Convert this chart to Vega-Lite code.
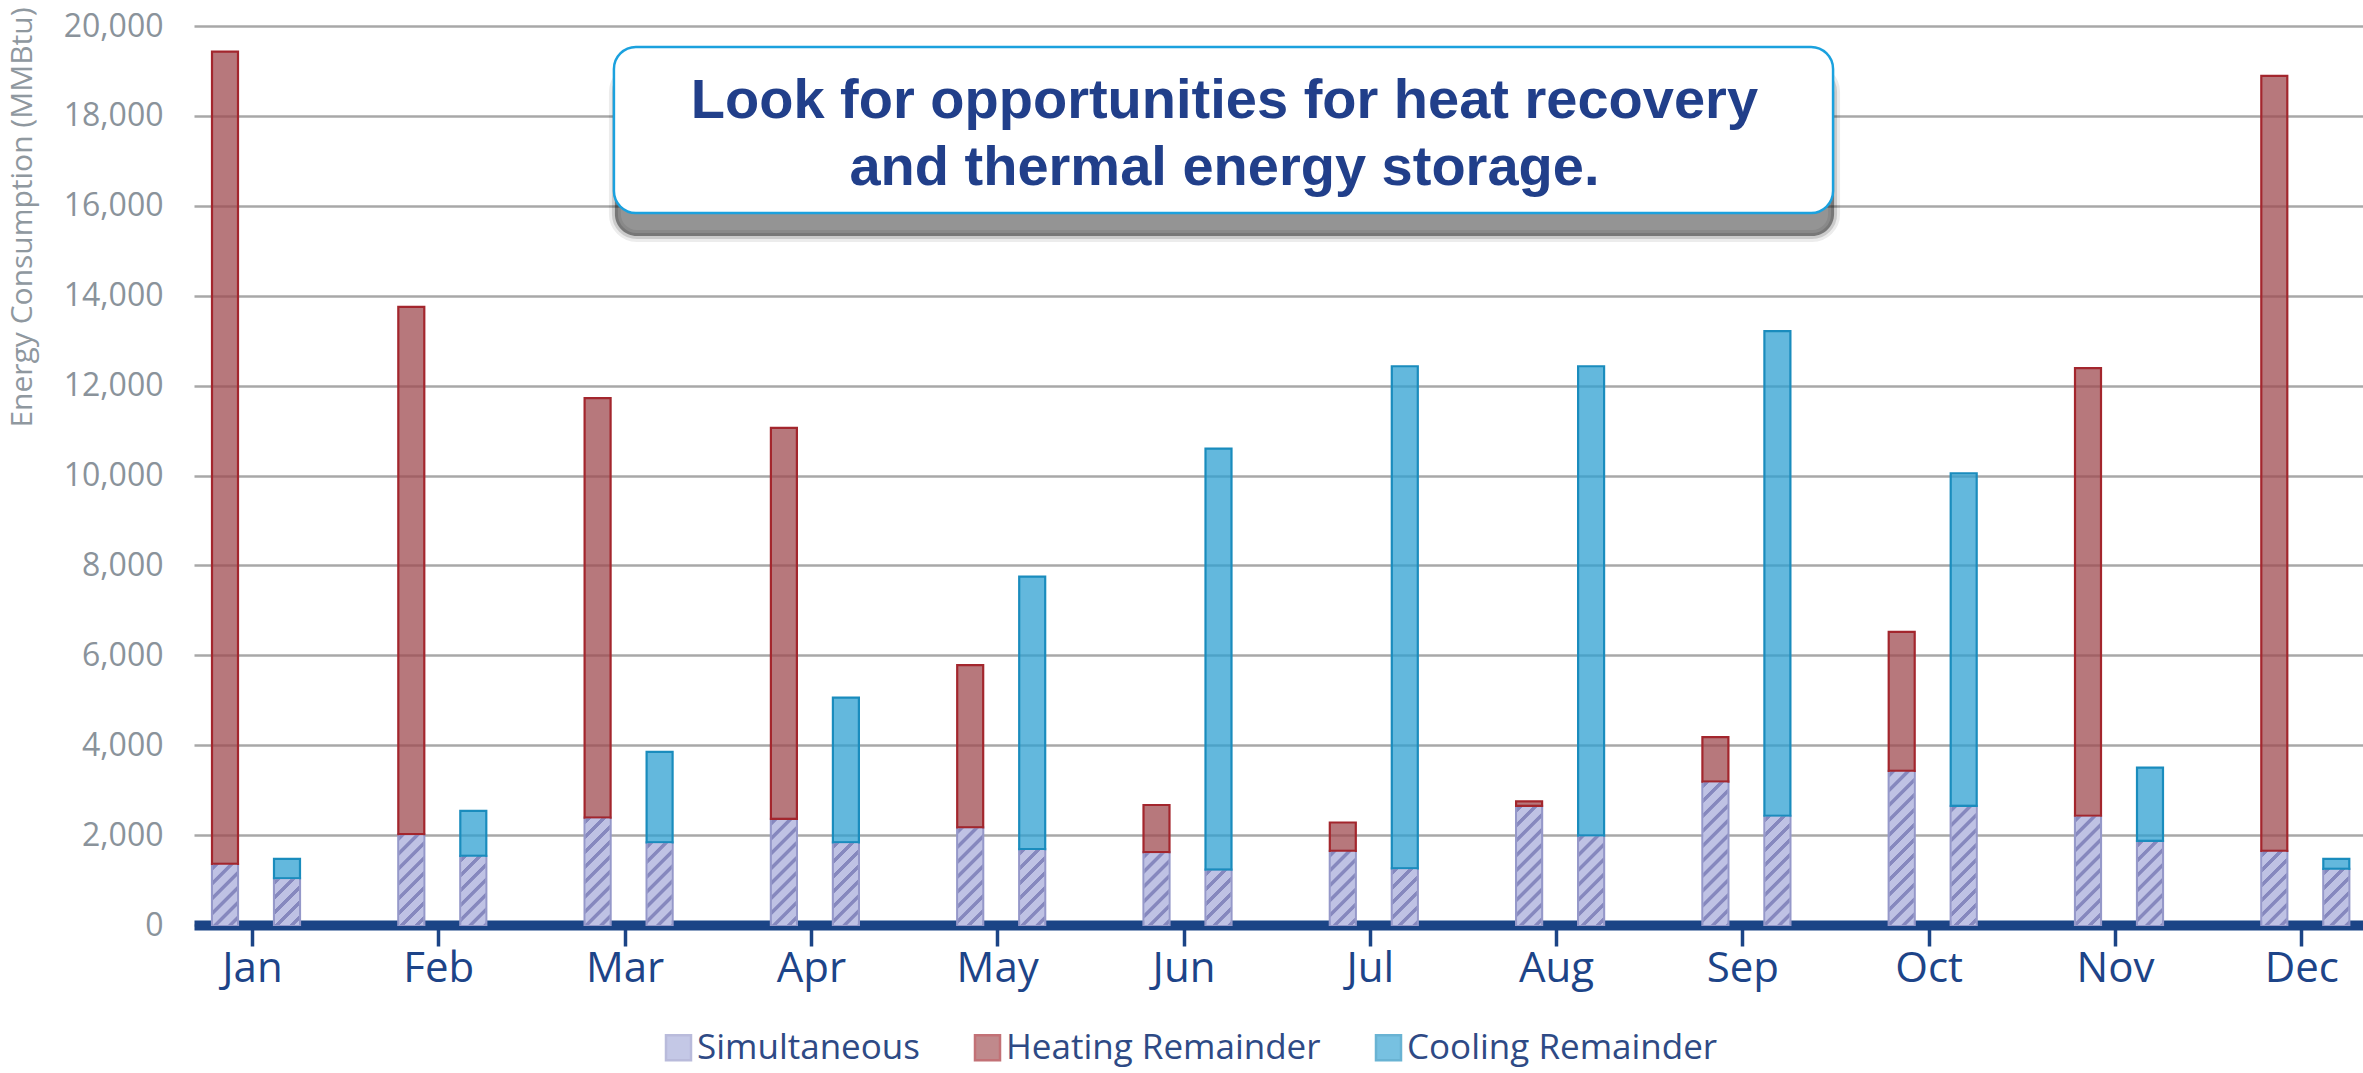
{
  "$schema": "https://vega.github.io/schema/vega-lite/v6.json",
  "width": 2169,
  "height": 899,
  "autosize": {"type": "none"},
  "padding": {"left": 194, "top": 26, "right": 0, "bottom": 148},
  "background": "white",
  "config": {"view": {"stroke": null}, "font": "Open Sans"},
  "data": {
    "values": [
      {"month": "Jan", "side": "Heating", "series": "Simultaneous", "value": 1360},
      {"month": "Jan", "side": "Heating", "series": "Heating Remainder", "value": 18070},
      {"month": "Jan", "side": "Cooling", "series": "Simultaneous", "value": 1040},
      {"month": "Jan", "side": "Cooling", "series": "Cooling Remainder", "value": 430},
      {"month": "Feb", "side": "Heating", "series": "Simultaneous", "value": 2020},
      {"month": "Feb", "side": "Heating", "series": "Heating Remainder", "value": 11730},
      {"month": "Feb", "side": "Cooling", "series": "Simultaneous", "value": 1540},
      {"month": "Feb", "side": "Cooling", "series": "Cooling Remainder", "value": 1000},
      {"month": "Mar", "side": "Heating", "series": "Simultaneous", "value": 2390},
      {"month": "Mar", "side": "Heating", "series": "Heating Remainder", "value": 9330},
      {"month": "Mar", "side": "Cooling", "series": "Simultaneous", "value": 1840},
      {"month": "Mar", "side": "Cooling", "series": "Cooling Remainder", "value": 2010},
      {"month": "Apr", "side": "Heating", "series": "Simultaneous", "value": 2360},
      {"month": "Apr", "side": "Heating", "series": "Heating Remainder", "value": 8700},
      {"month": "Apr", "side": "Cooling", "series": "Simultaneous", "value": 1840},
      {"month": "Apr", "side": "Cooling", "series": "Cooling Remainder", "value": 3220},
      {"month": "May", "side": "Heating", "series": "Simultaneous", "value": 2170},
      {"month": "May", "side": "Heating", "series": "Heating Remainder", "value": 3610},
      {"month": "May", "side": "Cooling", "series": "Simultaneous", "value": 1690},
      {"month": "May", "side": "Cooling", "series": "Cooling Remainder", "value": 6060},
      {"month": "Jun", "side": "Heating", "series": "Simultaneous", "value": 1620},
      {"month": "Jun", "side": "Heating", "series": "Heating Remainder", "value": 1050},
      {"month": "Jun", "side": "Cooling", "series": "Simultaneous", "value": 1230},
      {"month": "Jun", "side": "Cooling", "series": "Cooling Remainder", "value": 9370},
      {"month": "Jul", "side": "Heating", "series": "Simultaneous", "value": 1650},
      {"month": "Jul", "side": "Heating", "series": "Heating Remainder", "value": 630},
      {"month": "Jul", "side": "Cooling", "series": "Simultaneous", "value": 1260},
      {"month": "Jul", "side": "Cooling", "series": "Cooling Remainder", "value": 11170},
      {"month": "Aug", "side": "Heating", "series": "Simultaneous", "value": 2650},
      {"month": "Aug", "side": "Heating", "series": "Heating Remainder", "value": 100},
      {"month": "Aug", "side": "Cooling", "series": "Simultaneous", "value": 1990},
      {"month": "Aug", "side": "Cooling", "series": "Cooling Remainder", "value": 10440},
      {"month": "Sep", "side": "Heating", "series": "Simultaneous", "value": 3190},
      {"month": "Sep", "side": "Heating", "series": "Heating Remainder", "value": 990},
      {"month": "Sep", "side": "Cooling", "series": "Simultaneous", "value": 2430},
      {"month": "Sep", "side": "Cooling", "series": "Cooling Remainder", "value": 10780},
      {"month": "Oct", "side": "Heating", "series": "Simultaneous", "value": 3430},
      {"month": "Oct", "side": "Heating", "series": "Heating Remainder", "value": 3090},
      {"month": "Oct", "side": "Cooling", "series": "Simultaneous", "value": 2650},
      {"month": "Oct", "side": "Cooling", "series": "Cooling Remainder", "value": 7400},
      {"month": "Nov", "side": "Heating", "series": "Simultaneous", "value": 2430},
      {"month": "Nov", "side": "Heating", "series": "Heating Remainder", "value": 9960},
      {"month": "Nov", "side": "Cooling", "series": "Simultaneous", "value": 1870},
      {"month": "Nov", "side": "Cooling", "series": "Cooling Remainder", "value": 1630},
      {"month": "Dec", "side": "Heating", "series": "Simultaneous", "value": 1650},
      {"month": "Dec", "side": "Heating", "series": "Heating Remainder", "value": 17240},
      {"month": "Dec", "side": "Cooling", "series": "Simultaneous", "value": 1250},
      {"month": "Dec", "side": "Cooling", "series": "Cooling Remainder", "value": 220}
    ]
  },
  "layer": [
    {
      "transform": [
        {"stack": "value", "groupby": ["month", "side"], "sort": [{"field": "series", "order": "descending"}], "as": ["v0", "v1"]}
      ],
      "encoding": {
        "x": {
          "field": "month", "type": "nominal",
          "sort": ["Jan", "Feb", "Mar", "Apr", "May", "Jun", "Jul", "Aug", "Sep", "Oct", "Nov", "Dec"],
          "scale": {"range": [0, 2173.3], "paddingInner": 0.3344, "paddingOuter": 0, "round": false},
          "axis": {
            "title": null, "labelAngle": 0, "grid": false,
            "domainColor": "#1b4486", "domainWidth": 10, "domainCap": "butt",
            "ticks": true, "tickColor": "#1b4486", "tickWidth": 3.5, "tickSize": 21, "tickOffset": -4,
            "labelFont": "Open Sans", "labelFontSize": 42, "labelColor": "#1d4488", "labelPadding": 2
          }
        },
        "xOffset": {"field": "side", "type": "nominal", "sort": ["Heating", "Cooling"], "scale": {"paddingInner": 0, "paddingOuter": 0}},
        "y": {
          "field": "v1", "type": "quantitative",
          "scale": {"domain": [0, 20000], "nice": false},
          "axis": {
            "tickCount": 10, "format": ",d", "domain": false, "ticks": false,
            "grid": true, "gridColor": "#a8a8a8", "gridWidth": 2.5,
            "labelFont": "Open Sans", "labelFontSize": 32, "labelColor": "#8a939b", "labelPadding": 31,
            "title": "Energy Consumption (MMBtu)", "titleFont": "Open Sans", "titleFontSize": 30,
            "titleFontWeight": "normal", "titleColor": "#8f989f", "titleAngle": 270,
            "titleAlign": "right", "titleBaseline": "middle", "titleX": -172, "titleY": -19
          }
        }
      },
      "layer": [
        {
          "mark": {"type": "bar", "width": 26, "fillOpacity": 0.75, "strokeWidth": 2.2},
          "encoding": {
            "y2": {"field": "v0"},
            "fill": {
              "field": "series", "type": "nominal",
              "scale": {"domain": ["Simultaneous", "Heating Remainder", "Cooling Remainder"], "range": ["#a6abda", "#9f4b50", "#2fa0d2"]},
              "legend": {
                "orient": "none", "legendX": 467, "legendY": 1004, "direction": "horizontal", "title": null,
                "labelFont": "Open Sans", "labelFontSize": 35, "labelColor": "#2e4a85", "labelLimit": 600,
                "symbolType": "square", "symbolSize": 625, "symbolStrokeWidth": 2.5, "symbolOpacity": 0.65,
                "labelOffset": 1, "columnPadding": 50, "padding": 0
              }
            },
            "stroke": {
              "field": "series", "type": "nominal",
              "scale": {"domain": ["Simultaneous", "Heating Remainder", "Cooling Remainder"], "range": ["#9598c9", "#a3262d", "#1a8cbd"]},
              "legend": {
                "orient": "none", "legendX": 467, "legendY": 1004, "direction": "horizontal", "title": null,
                "labelFont": "Open Sans", "labelFontSize": 35, "labelColor": "#2e4a85", "labelLimit": 600,
                "symbolType": "square", "symbolSize": 625, "symbolStrokeWidth": 2.5, "symbolOpacity": 0.65,
                "labelOffset": 1, "columnPadding": 50, "padding": 0
              }
            }
          }
        },
        {
          "transform": [{"filter": "datum.series === 'Simultaneous'"}],
          "mark": {
            "type": "tick", "orient": "horizontal", "size": 24, "thickness": 200, "yOffset": 101,
            "clip": true, "opacity": 1, "strokeWidth": 0,
            "fill": {
              "gradient": "linear", "x1": 0, "y1": 0, "x2": 0.13249, "y2": 1.10408,
              "stops": [
                {"offset": 0, "color": "#bfc2e4"}, {"offset": 0.004, "color": "#8688be"}, {"offset": 0.022, "color": "#8688be"}, {"offset": 0.026, "color": "#bfc2e4"},
                {"offset": 0.0667, "color": "#bfc2e4"}, {"offset": 0.0707, "color": "#8688be"}, {"offset": 0.0887, "color": "#8688be"}, {"offset": 0.0927, "color": "#bfc2e4"},
                {"offset": 0.1333, "color": "#bfc2e4"}, {"offset": 0.1373, "color": "#8688be"}, {"offset": 0.1553, "color": "#8688be"}, {"offset": 0.1593, "color": "#bfc2e4"},
                {"offset": 0.2, "color": "#bfc2e4"}, {"offset": 0.204, "color": "#8688be"}, {"offset": 0.222, "color": "#8688be"}, {"offset": 0.226, "color": "#bfc2e4"},
                {"offset": 0.2667, "color": "#bfc2e4"}, {"offset": 0.2707, "color": "#8688be"}, {"offset": 0.2887, "color": "#8688be"}, {"offset": 0.2927, "color": "#bfc2e4"},
                {"offset": 0.3333, "color": "#bfc2e4"}, {"offset": 0.3373, "color": "#8688be"}, {"offset": 0.3553, "color": "#8688be"}, {"offset": 0.3593, "color": "#bfc2e4"},
                {"offset": 0.4, "color": "#bfc2e4"}, {"offset": 0.404, "color": "#8688be"}, {"offset": 0.422, "color": "#8688be"}, {"offset": 0.426, "color": "#bfc2e4"},
                {"offset": 0.4667, "color": "#bfc2e4"}, {"offset": 0.4707, "color": "#8688be"}, {"offset": 0.4887, "color": "#8688be"}, {"offset": 0.4927, "color": "#bfc2e4"},
                {"offset": 0.5333, "color": "#bfc2e4"}, {"offset": 0.5373, "color": "#8688be"}, {"offset": 0.5553, "color": "#8688be"}, {"offset": 0.5593, "color": "#bfc2e4"},
                {"offset": 0.6, "color": "#bfc2e4"}, {"offset": 0.604, "color": "#8688be"}, {"offset": 0.622, "color": "#8688be"}, {"offset": 0.626, "color": "#bfc2e4"},
                {"offset": 0.6667, "color": "#bfc2e4"}, {"offset": 0.6707, "color": "#8688be"}, {"offset": 0.6887, "color": "#8688be"}, {"offset": 0.6927, "color": "#bfc2e4"},
                {"offset": 0.7333, "color": "#bfc2e4"}, {"offset": 0.7373, "color": "#8688be"}, {"offset": 0.7553, "color": "#8688be"}, {"offset": 0.7593, "color": "#bfc2e4"},
                {"offset": 0.8, "color": "#bfc2e4"}, {"offset": 0.804, "color": "#8688be"}, {"offset": 0.822, "color": "#8688be"}, {"offset": 0.826, "color": "#bfc2e4"},
                {"offset": 0.8667, "color": "#bfc2e4"}, {"offset": 0.8707, "color": "#8688be"}, {"offset": 0.8887, "color": "#8688be"}, {"offset": 0.8927, "color": "#bfc2e4"},
                {"offset": 0.9333, "color": "#bfc2e4"}, {"offset": 0.9373, "color": "#8688be"}, {"offset": 0.9553, "color": "#8688be"}, {"offset": 0.9593, "color": "#bfc2e4"},
                {"offset": 1, "color": "#bfc2e4"}
              ]
            }
          }
        }
      ]
    },
    {
      "data": {"values": [{"note": "callout"}]},
      "encoding": {
        "x": {"datum": 2.254, "type": "quantitative", "scale": {"domain": [0, 12], "range": [0, 2235.6], "nice": false, "zero": false}, "axis": null},
        "x2": {"datum": 8.798},
        "y": {"datum": 19533},
        "y2": {"datum": 15840}
      },
      "layer": [
        {"mark": {"type": "rect", "fill": null, "stroke": "#111111", "strokeWidth": 12, "strokeOpacity": 0.08, "cornerRadius": 22, "xOffset": 1, "x2Offset": 1, "yOffset": 23, "y2Offset": 23}},
        {"mark": {"type": "rect", "fill": null, "stroke": "#111111", "strokeWidth": 6, "strokeOpacity": 0.15, "cornerRadius": 22, "xOffset": 1, "x2Offset": 1, "yOffset": 23, "y2Offset": 23}},
        {"mark": {"type": "rect", "fill": "#111111", "fillOpacity": 0.45, "strokeWidth": 0, "cornerRadius": 22, "xOffset": 1, "x2Offset": 1, "yOffset": 23, "y2Offset": 23}},
        {"mark": {"type": "rect", "fill": "white", "fillOpacity": 1, "stroke": "#1ba1de", "strokeWidth": 2.5, "cornerRadius": 22}}
      ]
    },
    {
      "data": {"values": [{"note": "Look for opportunities for heat recovery|and thermal energy storage."}]},
      "mark": {
        "type": "text", "font": "Liberation Sans", "fontWeight": "bold", "fontSize": 56,
        "color": "#213f8a", "align": "center", "baseline": "alphabetic", "lineHeight": 67, "lineBreak": "|"
      },
      "encoding": {
        "text": {"field": "note"},
        "x": {"datum": 5.531, "type": "quantitative", "scale": {"domain": [0, 12], "range": [0, 2235.6], "nice": false, "zero": false}, "axis": null},
        "y": {"datum": 17947}
      }
    }
  ],
  "resolve": {"scale": {"x": "independent"}}
}
